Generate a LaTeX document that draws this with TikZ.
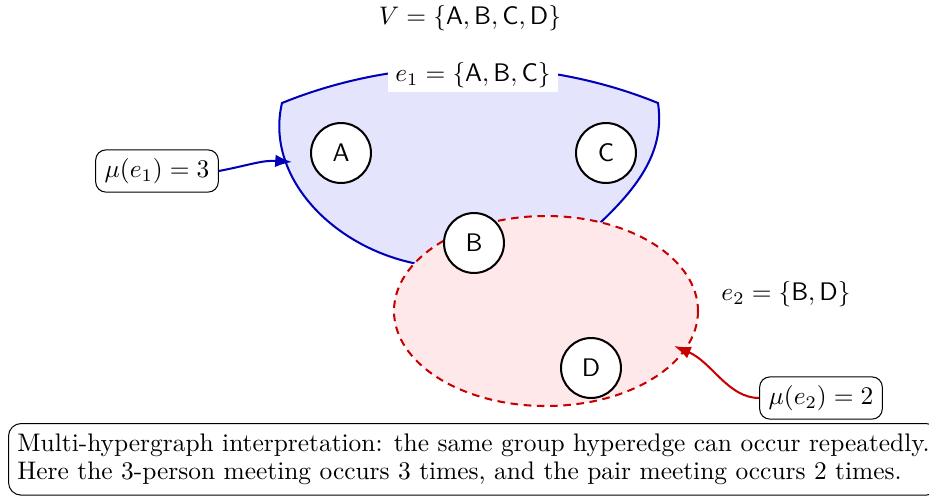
\documentclass[tikz,border=0pt]{standalone}
\usetikzlibrary{arrows.meta}
\definecolor{eblue}{RGB}{0,0,185}
\definecolor{ered}{RGB}{200,0,0}
\definecolor{bfill}{RGB}{228,228,252}
\definecolor{rfill}{RGB}{255,232,234}
\begin{document}
\begin{tikzpicture}[x=0.3937pt,y=-0.3937pt,
  vtx/.style={circle,draw=black,thick,fill=white,minimum size=23.6pt,inner sep=0pt,font=\sffamily},
  mubox/.style={draw=black,rounded corners=4pt,fill=white,inner xsep=3.5pt,inner ysep=3.3pt},
  edgelbl/.style={fill=white,inner xsep=3pt,inner ysep=1.5pt}]
\useasboundingbox (0,0) rectangle (929,495);
% hyperedge e1
\path[draw=eblue,fill=bfill,thick] (282,103) .. controls (400,55) and (540,55) .. (658,103)
  .. controls (665,150) and (640,185) .. (600,223)
  .. controls (560,262) and (470,280) .. (413,263)
  .. controls (330,245) and (265,175) .. (282,103) -- cycle;
% hyperedge e2
\draw[ered,thick,dash pattern=on 3pt off 2.2pt,fill=rfill] (546,311) ellipse [x radius=152, y radius=95];
% title
\node (V) at (470,18) {$V = \{\textsf{A},\textsf{B},\textsf{C},\textsf{D}\}$};
\node[edgelbl] (l1) at (473,75) {$e_1 = \{\textsf{A},\textsf{B},\textsf{C}\}$};
\node (l2) at (786,294) {$e_2 = \{\textsf{B},\textsf{D}\}$};
% vertices
\node[vtx] (A) at (341,153) {A};
\node[vtx] (C) at (606,153) {C};
\node[vtx] (B) at (474,243) {B};
\node[vtx] (D) at (591,368) {D};
% multiplicities
\node[mubox] (mu1) at (157,171) {$\mu(e_1) = 3$};
\node[mubox] (mu2) at (821,398) {$\mu(e_2) = 2$};
\coordinate (a1) at (292,162);
\coordinate (a2) at (674,346);
\draw[eblue,thick,-{Latex}] (mu1.east) .. controls (250,165) and (262,160) .. (a1);
\draw[ered,thick,-{Latex}] (mu2.west) .. controls (728,398) and (712,362) .. (a2);
% note
\node[draw=black,rounded corners=5pt,align=left,anchor=north west,inner xsep=3.5pt,inner ysep=4pt,
      font=\fontsize{10}{11.2}\selectfont] (note) at (8,423)
  {Multi-hypergraph interpretation: the same group hyperedge can occur repeatedly.\\
   Here the 3-person meeting occurs 3 times, and the pair meeting occurs 2 times.};
\end{tikzpicture}
\end{document}
